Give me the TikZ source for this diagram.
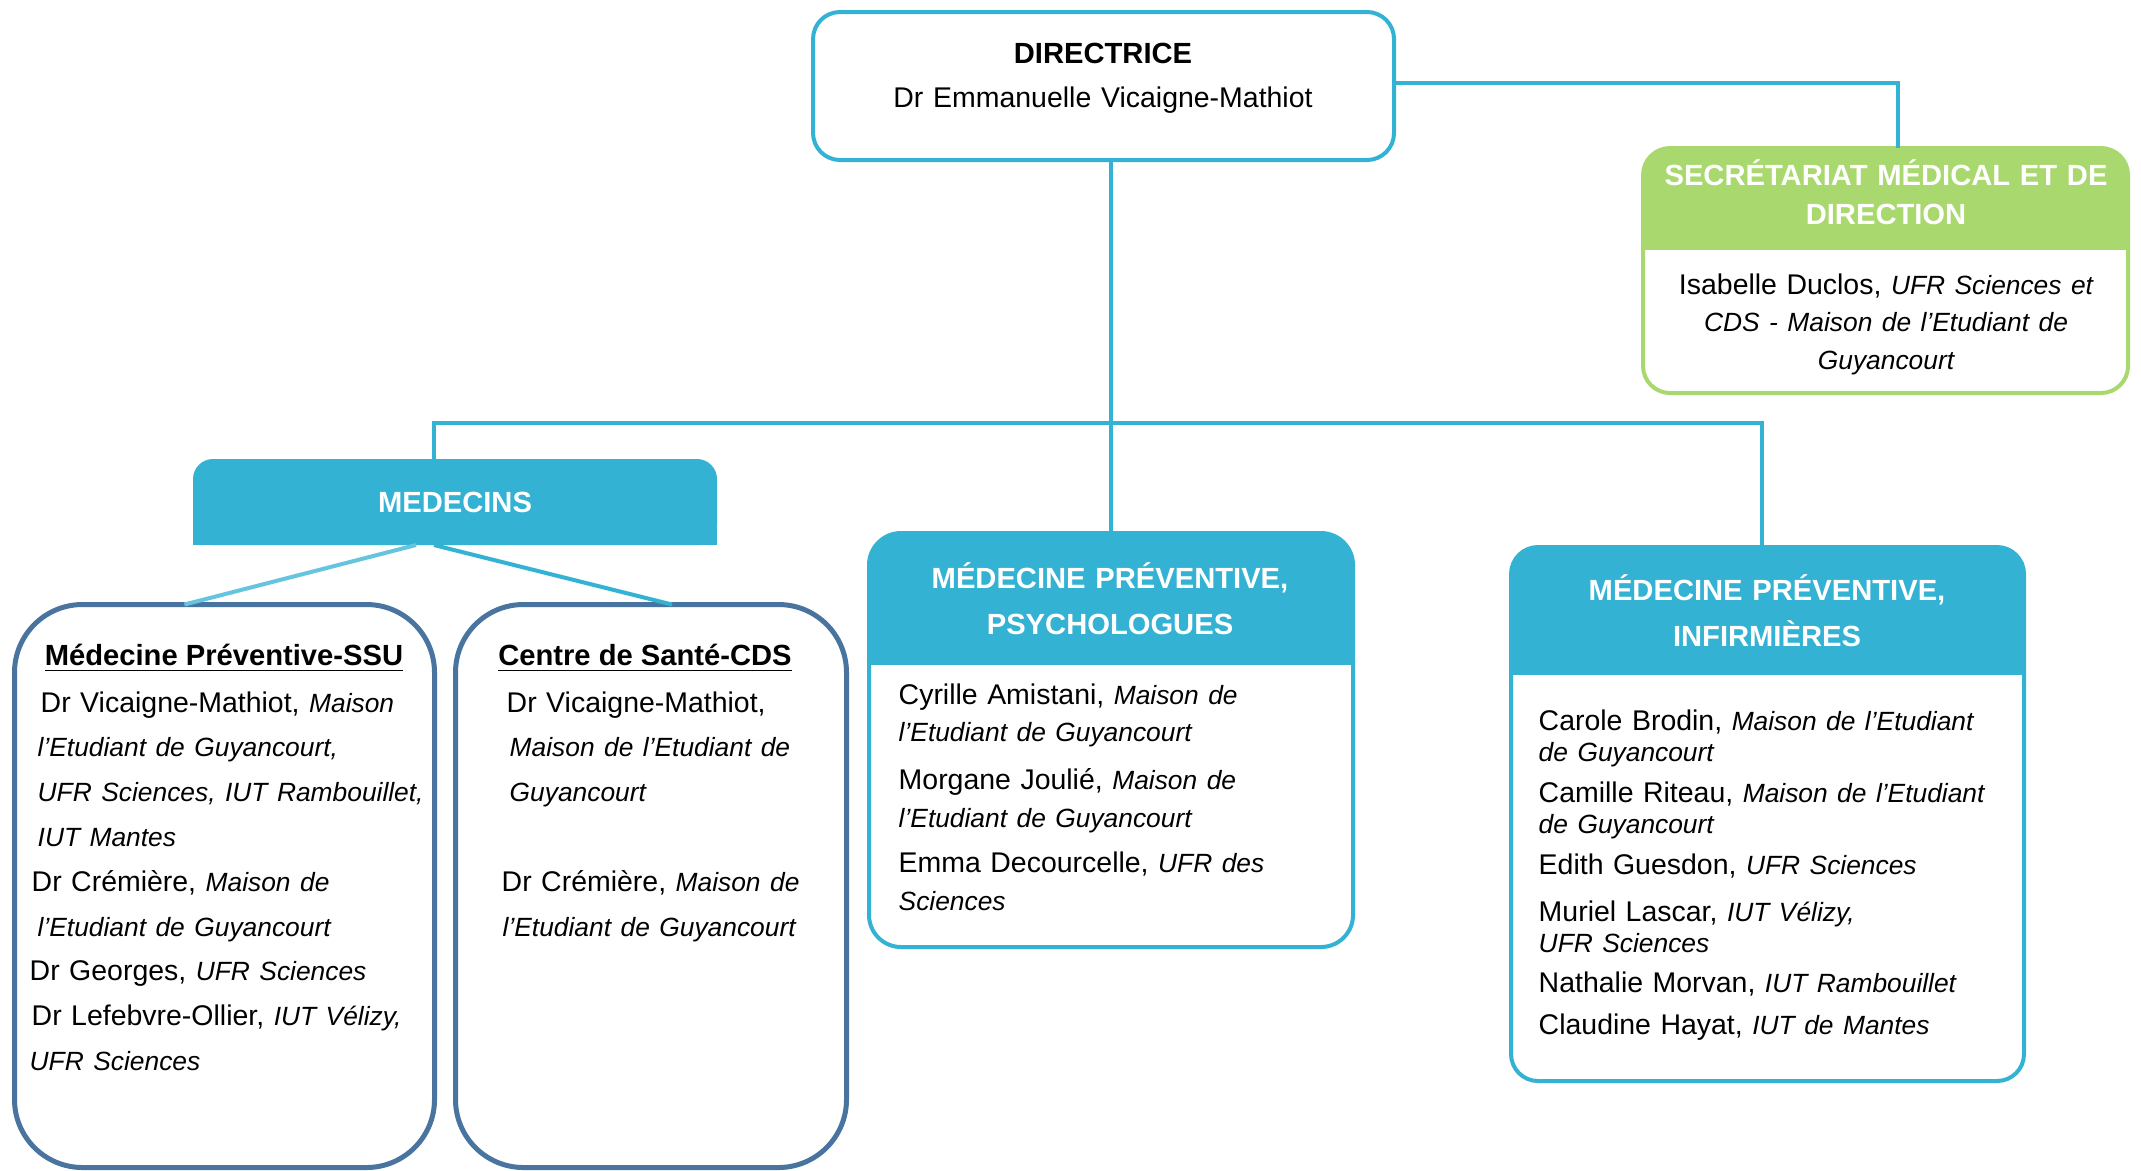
\documentclass[tikz,border=0pt]{standalone}
\usepackage{fontspec}
\setmainfont{Liberation Sans}
\definecolor{bleuorg}{RGB}{51,178,211}
\definecolor{vertorg}{RGB}{169,216,110}
\definecolor{marine}{RGB}{74,116,160}
\newcommand\lieu[1]{{\fontsize{7.5}{9}\selectfont\itshape #1}}
\tikzset{
  lien/.style={draw=bleuorg, line width=0.4mm},
  cadre/.style={draw=bleuorg, line width=0.4mm, rounded corners=2.7mm, outer sep=0pt, inner sep=0pt},
  cadremed/.style={draw=marine, line width=0.5mm, rounded corners=6.8mm, outer sep=0pt, inner sep=0pt, minimum width=42mm, minimum height=56.3mm},
  bandeau/.style 2 args={path picture={\fill[#1, sharp corners] (path picture bounding box.north west) rectangle ([yshift=-#2]path picture bounding box.north east);}},
  entete/.style={text=white, font=\fontsize{8.3}{13.1}\selectfont\bfseries, align=center, inner sep=0pt},
  titre/.style={font=\fontsize{8.3}{10}\selectfont\bfseries, inner sep=0pt, anchor=base},
  corps/.style={font=\fontsize{8.1}{12.75}\selectfont, align=left, inner sep=0pt, anchor=base west},
}
\begin{document}
\begin{tikzpicture}[x=0.1mm, y=-0.1mm]
\path[use as bounding box, fill=white] (0,0) rectangle (2141,1170);

\node[cadre, minimum width=58.1mm, minimum height=14.8mm] (dir) at (1103.5,86) {};
\node[entete, text=black, text width=57mm, anchor=base] (dirt) at (1103,63) {DIRECTRICE\\[-0.3pt]{\mdseries\fontsize{8.1}{13}\selectfont Dr Emmanuelle Vicaigne-Mathiot}};

\node[cadre, draw=vertorg, bandeau={vertorg}{10.2mm}, minimum width=48.5mm, minimum height=24.5mm] (sec) at (1885.5,270.5) {};
\node[entete, text width=47mm, anchor=base] (sect) at (1886,185) {SECRÉTARIAT MÉDICAL ET DE\\[-2pt]DIRECTION};
\node[corps, anchor=base, align=center, text width=47mm, font=\fontsize{8.1}{10.8}\selectfont] (secc) at (1886,294) {Isabelle Duclos, \lieu{UFR Sciences et}\\ \lieu{CDS - Maison de l’Etudiant de}\\ \lieu{Guyancourt}};

\node[fill=bleuorg, rounded corners=2mm, minimum width=52.4mm, minimum height=8.6mm, outer sep=0pt, inner sep=0pt] (med) at (455,502) {};
\fill[bleuorg] (med.west) rectangle (med.south east);
\node[entete, anchor=base] (medt) at (455,512) {MEDECINS};

\node[cadremed] (ssu) at (224.5,886) {};
\node[titre] (ssut) at (224,665) {\underline{Médecine Préventive-SSU}};
\node[corps, text width=42mm] (ssuc) at (29,712) {\hspace*{1.1mm}Dr Vicaigne-Mathiot, \lieu{Maison}\\
  \hspace*{.8mm}\lieu{l’Etudiant de Guyancourt,}\\
  \hspace*{.8mm}\lieu{UFR Sciences, IUT Rambouillet,}\\
  \hspace*{.8mm}\lieu{IUT Mantes}\\
  \hspace*{.2mm}Dr Crémière, \lieu{Maison de}\\
  \hspace*{.8mm}\lieu{l’Etudiant de Guyancourt}\\
  Dr Georges, \lieu{UFR Sciences}\\
  \hspace*{.2mm}Dr Lefebvre-Ollier, \lieu{IUT Vélizy,}\\
  \lieu{UFR Sciences}};

\node[cadremed, minimum width=39.1mm] (cds) at (651,886) {};
\node[titre] (cdst) at (645,665) {\underline{Centre de Santé-CDS}};
\node[corps, text width=38mm] (cdsc) at (501,712) {\hspace*{.5mm}Dr Vicaigne-Mathiot,\\
  \hspace*{.8mm}\lieu{Maison de l’Etudiant de}\\
  \hspace*{.8mm}\lieu{Guyancourt}\\[12.75pt]
  Dr Crémière, \lieu{Maison de}\\
  \hspace*{.1mm}\lieu{l’Etudiant de Guyancourt}};

\node[cadre, bandeau={bleuorg}{13.2mm}, rounded corners=3.2mm, minimum width=48.4mm, minimum height=41.4mm] (psy) at (1111,740) {};
\node[entete, text width=46mm, anchor=base] (psyt) at (1110,588) {MÉDECINE PRÉVENTIVE,\\PSYCHOLOGUES};
\node[corps, text width=44mm, font=\fontsize{8.1}{10.8}\selectfont] (psyc) at (898,704) {Cyrille Amistani, \lieu{Maison de}\\
  \lieu{l’Etudiant de Guyancourt}\\[2.6pt]
  Morgane Joulié, \lieu{Maison de}\\
  \lieu{l’Etudiant de Guyancourt}\\[2.2pt]
  Emma Decourcelle, \lieu{UFR des}\\
  \lieu{Sciences}};

\node[cadre, bandeau={bleuorg}{12.8mm}, minimum width=51.3mm, minimum height=53.4mm] (inf) at (1767.5,814) {};
\node[entete, text width=46mm, anchor=base] (inft) at (1767,600) {MÉDECINE PRÉVENTIVE,\\INFIRMIÈRES};
\node[corps, text width=47mm, font=\fontsize{8.1}{8.82}\selectfont] (infc) at (1538,730) {Carole Brodin, \lieu{Maison de l’Etudiant}\\
  \lieu{de Guyancourt}\\[2.85pt]
  Camille Riteau, \lieu{Maison de l’Etudiant}\\
  \lieu{de Guyancourt}\\[3.1pt]
  Edith Guesdon, \lieu{UFR Sciences}\\[4.3pt]
  Muriel Lascar, \lieu{IUT Vélizy,}\\
  \lieu{UFR Sciences}\\[2.6pt]
  Nathalie Morvan, \lieu{IUT Rambouillet}\\[3.1pt]
  Claudine Hayat, \lieu{IUT de Mantes}};

\coordinate (barre) at (1111,423);
\draw[lien] ([yshift=.3mm]dir.east) -| ([xshift=1.25mm]sec.north);
\draw[lien] (dir.south -| psy.north) -- (psy.north);
\draw[lien] ([xshift=-2.1mm]med.north) |- (barre) -| ([xshift=-.6mm]inf.north);
\draw[lien, draw=bleuorg!75] ([xshift=-3.9mm]med.south) -- ([xshift=-4mm]ssu.north);
\draw[lien] ([xshift=-2.1mm]med.south) -- ([xshift=2.1mm]cds.north);
\end{tikzpicture}
\end{document}
